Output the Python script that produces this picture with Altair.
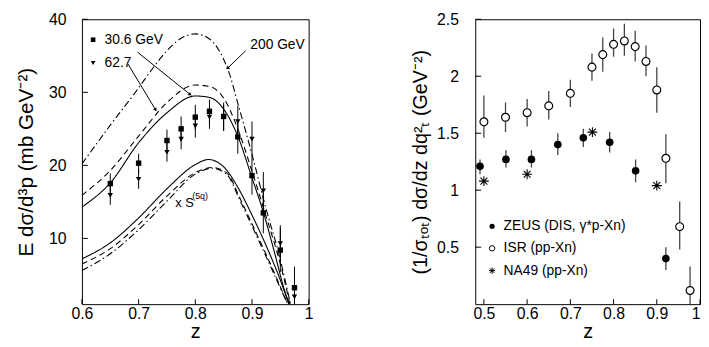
import math
import altair as alt
import pandas as pd

FONT = "Liberation Sans"

# ---------------- Left panel data ----------------
z_pts = [0.65, 0.7, 0.75, 0.775, 0.8, 0.825, 0.85, 0.875, 0.9, 0.92, 0.95, 0.975]
sq_val = [17.5, 20.3, 23.4, 25.0, 26.6, 27.4, 26.7, 23.9, 18.6, 13.5, 8.4, 3.25]
sq_err = [1.4, 1.3, 1.5, 1.7, 1.7, 1.6, 1.9, 2.3, 2.6, 2.8, 3.0, 2.9]
tri_val = [15.9, 18.1, 21.8, 23.6, 25.4, 26.6, 26.5, 26.0, 23.6, 16.5, 9.3, 2.0]
tri_err = [1.3, 1.3, 1.3, 1.4, 1.6, 1.6, 1.8, 2.2, 2.4, 2.6, 2.5, 1.5]

# model curves (upper: full, lower: x S(5q))
up30_z = [0.6, 0.65, 0.7, 0.75, 0.8, 0.825, 0.85, 0.875, 0.9, 0.92, 0.94, 0.957, 0.966]
up30_v = [14.3, 17.6, 23.1, 27.2, 29.5, 29.3, 27.7, 24.0, 18.3, 13.6, 8.0, 3.0, 1.0]
up62_z = [0.6, 0.65, 0.7, 0.75, 0.8, 0.825, 0.85, 0.875, 0.9, 0.925, 0.95, 0.967]
up62_v = [15.9, 19.3, 24.0, 28.6, 31.0, 30.8, 29.2, 25.0, 19.2, 13.0, 6.5, 1.0]
up200_z = [0.6, 0.65, 0.7, 0.725, 0.75, 0.775, 0.8, 0.825, 0.845, 0.86, 0.875, 0.9, 0.925, 0.947, 0.968]
up200_v = [20.2, 25.5, 30.6, 33.3, 35.7, 37.4, 38.0, 37.3, 35.3, 32.6, 28.5, 21.5, 14.0, 8.0, 1.0]
lo30_z = [0.6, 0.65, 0.7, 0.75, 0.8, 0.823, 0.85, 0.875, 0.9, 0.925, 0.95, 0.965]
lo30_v = [7.2, 9.4, 12.8, 16.8, 20.1, 20.8, 19.8, 17.0, 13.2, 9.0, 4.3, 1.0]
lo62_z = [0.6, 0.65, 0.7, 0.75, 0.8, 0.83, 0.855, 0.88, 0.9, 0.925, 0.95, 0.963]
lo62_v = [6.5, 8.6, 11.9, 15.8, 19.0, 19.7, 19.0, 15.3, 12.0, 7.8, 3.4, 1.0]
lo200_z = [0.6, 0.65, 0.7, 0.75, 0.8, 0.83, 0.855, 0.88, 0.9, 0.925, 0.95, 0.963]
lo200_v = [5.6, 7.9, 11.2, 15.1, 18.8, 19.6, 18.8, 15.0, 11.7, 7.5, 3.2, 1.0]

left_xticks = [0.6, 0.7, 0.8, 0.9, 1.0]
left_yticks = [10, 20, 30, 40]

# ---------------- Right panel data ----------------
isr_z = [0.5, 0.55, 0.6, 0.65, 0.7, 0.75, 0.775, 0.8, 0.825, 0.85, 0.875, 0.9, 0.921, 0.953, 0.977]
isr_v = [1.60, 1.64, 1.68, 1.74, 1.85, 2.08, 2.19, 2.28, 2.31, 2.26, 2.13, 1.88, 1.28, 0.68, 0.12]
isr_lo = [1.46, 1.51, 1.56, 1.62, 1.73, 1.96, 2.04, 2.17, 2.18, 2.13, 2.00, 1.68, 1.06, 0.48, 0.0]
isr_hi = [1.83, 1.77, 1.80, 1.87, 1.97, 2.20, 2.34, 2.42, 2.46, 2.40, 2.27, 2.08, 1.49, 0.90, 0.33]
zeus_z = [0.491, 0.551, 0.61, 0.671, 0.73, 0.791, 0.851, 0.921]
zeus_v = [1.21, 1.27, 1.27, 1.40, 1.46, 1.42, 1.17, 0.40]
zeus_lo = [1.14, 1.20, 1.20, 1.31, 1.38, 1.33, 1.07, 0.30]
zeus_hi = [1.27, 1.35, 1.35, 1.50, 1.54, 1.51, 1.27, 0.50]
na49_z = [0.5, 0.6, 0.751, 0.9]
na49_v = [1.08, 1.14, 1.51, 1.04]

right_xticks = [0.5, 0.6, 0.7, 0.8, 0.9, 1.0]
right_yticks = [0.5, 1.0, 1.5, 2.0, 2.5]

STAR = "M0,-1L0,1M-1,0L1,0M-0.7,-0.7L0.7,0.7M-0.7,0.7L0.7,-0.7"

# ---------------- geometry / styles ----------------
LW, LH = 230, 289
RW, RH = 228, 289
LX = [0.6, 1.0]
LY = [1, 40]
RX = [0.48, 1.0]
RY = [0.0, 2.5]

axis_common = dict(
    grid=False, domain=False, ticks=False,
    labelFont=FONT, labelFontSize=16, labelColor="black",
    titleFont=FONT, titleFontWeight="normal", titleColor="black",
)

lx_scale = alt.Scale(domain=LX, nice=False, zero=False)
ly_scale = alt.Scale(domain=LY, nice=False, zero=False)
rx_scale = alt.Scale(domain=RX, nice=False, zero=False)
ry_scale = alt.Scale(domain=RY, nice=False, zero=False)

lx_axis = alt.Axis(title="z", values=left_xticks, format="~g", labelPadding=2, titlePadding=0,
                   titleFontSize=20, labelFlush=False, **axis_common)
ly_axis = alt.Axis(title="E dσ/d³p (mb GeV⁻²)", values=left_yticks, format="d",
                   labelPadding=16, titlePadding=12, titleFontSize=21, **axis_common)
rx_axis = alt.Axis(title="z", values=right_xticks, format="~g", labelPadding=2, titlePadding=0,
                   titleFontSize=20, labelFlush=True, **axis_common)
ry_axis = alt.Axis(title="(1/σₜₒₜ) dσ/dz dq²ₜ (GeV⁻²)", values=right_yticks, format="~g",
                   labelPadding=17, titlePadding=6, titleFontSize=20, **axis_common)


def LXe(f):
    return alt.X(f, type="quantitative", scale=lx_scale, axis=lx_axis)


def LYe(f):
    return alt.Y(f, type="quantitative", scale=ly_scale, axis=ly_axis)


def RXe(f):
    return alt.X(f, type="quantitative", scale=rx_scale, axis=rx_axis)


def RYe(f):
    return alt.Y(f, type="quantitative", scale=ry_scale, axis=ry_axis)


# ---------------- left panel ----------------
pts = pd.DataFrame({
    "z": z_pts, "sq": sq_val, "tri": tri_val,
    "sq_lo": [v - e for v, e in zip(sq_val, sq_err)],
    "sq_hi": [v + e for v, e in zip(sq_val, sq_err)],
    "tri_lo": [v - e for v, e in zip(tri_val, tri_err)],
    "tri_hi": [v + e for v, e in zip(tri_val, tri_err)],
})

curves = []
for name, zs, vs, style in [
    ("u30", up30_z, up30_v, "solid"), ("u62", up62_z, up62_v, "dash"), ("u200", up200_z, up200_v, "dashdot"),
    ("l30", lo30_z, lo30_v, "solid"), ("l62", lo62_z, lo62_v, "dash"), ("l200", lo200_z, lo200_v, "dashdot"),
]:
    for z, v in zip(zs, vs):
        curves.append({"curve": name, "style": style, "z": z, "v": v})
curves = pd.DataFrame(curves)

dash_map = {"solid": [1, 0], "dash": [6, 4], "dashdot": [7, 3, 1.5, 3]}


def curve_layer(style):
    return alt.Chart(curves[curves["style"] == style]).mark_line(
        color="black", strokeWidth=1.1, interpolate="monotone", clip=True,
        strokeDash=dash_map[style]
    ).encode(x=LXe("z"), y=LYe("v"), detail="curve:N", order="z:Q")


px_per_z = LW / (LX[1] - LX[0])
px_per_v = LH / (LY[1] - LY[0])
arrows = pd.DataFrame({
    "z1": [0.698, 0.681, 0.889], "v1": [35.5, 33.9, 35.7],
    "z2": [0.791, 0.730, 0.857], "v2": [29.7, 27.6, 33.3],
})
arrows["ang"] = [
    math.degrees(math.atan2((r.z2 - r.z1) * px_per_z, (r.v2 - r.v1) * px_per_v)) % 360
    for r in arrows.itertuples()
]

left_leg = pd.DataFrame({"z": [0.6197, 0.6197], "v": [37.2, 34.0], "shape": ["square", "triangle-down"]})
left_txt = pd.DataFrame({
    "z": [0.640, 0.640, 0.897], "v": [37.2, 34.0, 36.5],
    "t": ["30.6 GeV", "62.7", "200 GeV"],
})

lxt = pd.DataFrame({"t": left_xticks})
lyt = pd.DataFrame({"t": left_yticks})

left_layers = [
    curve_layer("solid"), curve_layer("dash"), curve_layer("dashdot"),
    alt.Chart(pts).mark_rule(color="black", strokeWidth=1, clip=True).encode(
        x=LXe("z"), y=LYe("sq_hi"), y2="sq_lo"),
    alt.Chart(pts).mark_rule(color="black", strokeWidth=1, clip=True).encode(
        x=LXe("z"), y=LYe("tri_hi"), y2="tri_lo"),
    alt.Chart(pts).mark_point(shape="square", filled=True, size=30, color="black", opacity=1).encode(
        x=LXe("z"), y=LYe("sq")),
    alt.Chart(pts).mark_point(shape="triangle-down", filled=True, size=30, color="black", opacity=1).encode(
        x=LXe("z"), y=LYe("tri")),
    alt.Chart(arrows).mark_rule(color="black", strokeWidth=1).encode(
        x=LXe("z1"), y=LYe("v1"), x2="z2", y2="v2"),
    alt.Chart(arrows).mark_point(shape="triangle-up", filled=True, size=16, color="black", opacity=1).encode(
        x=LXe("z2"), y=LYe("v2"), angle=alt.Angle("ang:Q", scale=None)),
    alt.Chart(left_leg).mark_point(filled=True, size=22, color="black", opacity=1).encode(
        x=LXe("z"), y=LYe("v"), shape=alt.Shape("shape:N", scale=None)),
    alt.Chart(left_txt).mark_text(font=FONT, fontSize=14, align="left", baseline="middle", color="black").encode(
        x=LXe("z"), y=LYe("v"), text="t:N"),
    alt.Chart(pd.DataFrame({"z": [0.7647], "v": [14.9], "t": ["x S"]})).mark_text(
        font=FONT, fontSize=13, align="left", baseline="middle", color="black").encode(
        x=LXe("z"), y=LYe("v"), text="t:N"),
    alt.Chart(pd.DataFrame({"z": [0.7945], "v": [15.8], "t": ["(5q)"]})).mark_text(
        font=FONT, fontSize=9, align="left", baseline="middle", color="black").encode(
        x=LXe("z"), y=LYe("v"), text="t:N"),
    alt.Chart(lxt).mark_rule(color="black", strokeWidth=1).encode(
        x=LXe("t"), y=alt.value(LH - 5), y2=alt.value(LH)),
    alt.Chart(lyt).mark_rule(color="black", strokeWidth=1).encode(
        y=LYe("t"), x=alt.value(0), x2=alt.value(6)),
]
left = alt.layer(*left_layers).properties(width=LW, height=LH)

# ---------------- right panel ----------------
isr = pd.DataFrame({"z": isr_z, "v": isr_v, "lo": isr_lo, "hi": isr_hi})
zeus = pd.DataFrame({"z": zeus_z, "v": zeus_v, "lo": zeus_lo, "hi": zeus_hi})
na49 = pd.DataFrame({"z": na49_z, "v": na49_v})

right_leg = pd.DataFrame({"z": [0.519, 0.519, 0.519], "v": [0.683, 0.49, 0.294]})
right_txt = pd.DataFrame({
    "z": [0.5456, 0.5456, 0.5456], "v": [0.683, 0.49, 0.294],
    "t": ["ZEUS (DIS, γ*p-Xn)", "ISR (pp-Xn)", "NA49 (pp-Xn)"],
})
rxt = pd.DataFrame({"t": right_xticks})
ryt = pd.DataFrame({"t": right_yticks})

right_layers = [
    alt.Chart(isr).mark_rule(color="#444444", strokeWidth=1.3, clip=True).encode(
        x=RXe("z"), y=RYe("hi"), y2="lo"),
    alt.Chart(zeus).mark_rule(color="#444444", strokeWidth=1.3, clip=True).encode(
        x=RXe("z"), y=RYe("hi"), y2="lo"),
    alt.Chart(isr).mark_point(shape="circle", filled=True, fill="white", stroke="black",
                              strokeWidth=1.2, size=64, opacity=1).encode(x=RXe("z"), y=RYe("v")),
    alt.Chart(zeus).mark_point(shape="circle", filled=True, color="black", size=60, opacity=1).encode(
        x=RXe("z"), y=RYe("v")),
    alt.Chart(na49).mark_point(shape=STAR, filled=False, color="black", strokeWidth=1.1, size=100,
                               opacity=1).encode(x=RXe("z"), y=RYe("v")),
    alt.Chart(right_leg.iloc[[0]]).mark_point(shape="circle", filled=True, color="black", size=28,
                                              opacity=1).encode(x=RXe("z"), y=RYe("v")),
    alt.Chart(right_leg.iloc[[1]]).mark_point(shape="circle", filled=True, fill="white", stroke="black",
                                              strokeWidth=1, size=30, opacity=1).encode(x=RXe("z"), y=RYe("v")),
    alt.Chart(right_leg.iloc[[2]]).mark_point(shape=STAR, filled=False, color="black", strokeWidth=1,
                                              size=40, opacity=1).encode(x=RXe("z"), y=RYe("v")),
    alt.Chart(right_txt).mark_text(font=FONT, fontSize=14, align="left", baseline="middle", color="black").encode(
        x=RXe("z"), y=RYe("v"), text="t:N"),
    alt.Chart(rxt).mark_rule(color="black", strokeWidth=1).encode(
        x=RXe("t"), y=alt.value(RH - 5), y2=alt.value(RH)),
    alt.Chart(ryt).mark_rule(color="black", strokeWidth=1).encode(
        y=RYe("t"), x=alt.value(0), x2=alt.value(6)),
]
right = alt.layer(*right_layers).properties(width=RW, height=RH)

chart = alt.hconcat(left, right, spacing=98).properties(
    padding={"left": 7, "top": 0, "right": 0, "bottom": 0},
    background="white",
).configure_view(stroke="black", strokeWidth=1)

chart.save("out.html", embed_options={"renderer": "svg", "actions": False})
